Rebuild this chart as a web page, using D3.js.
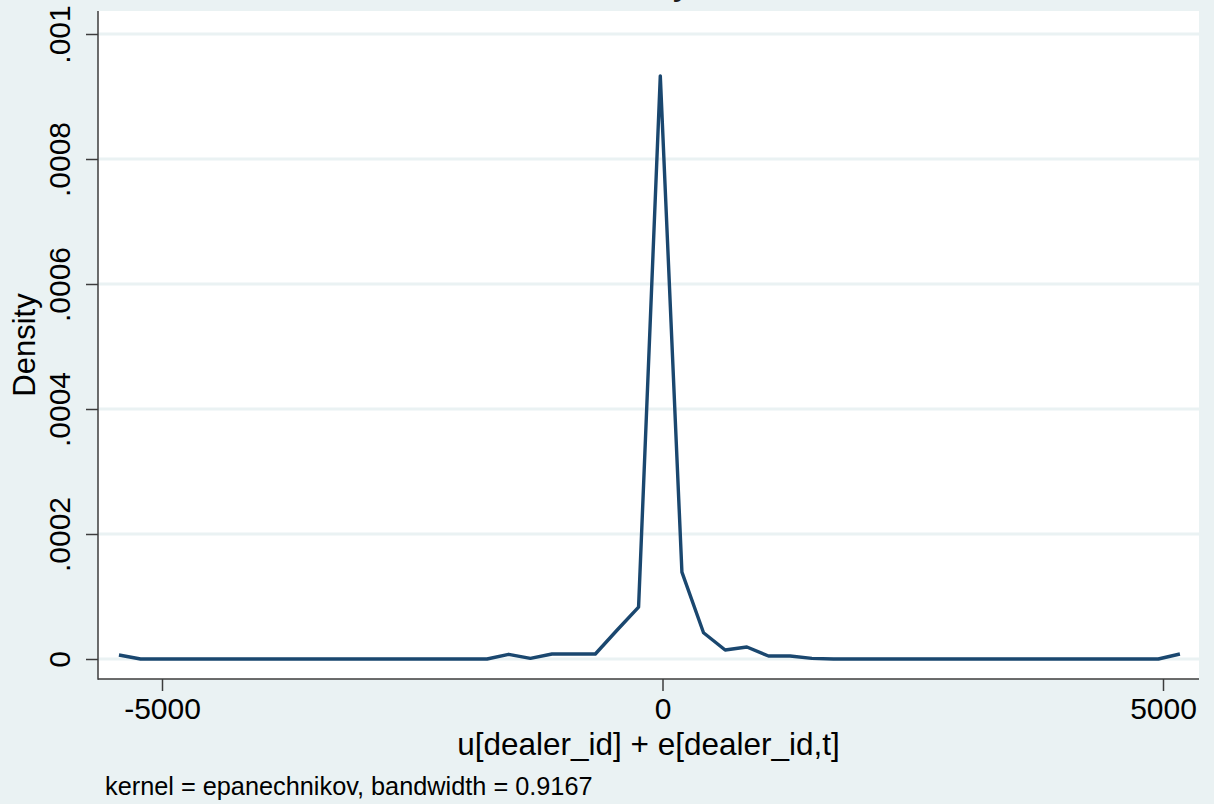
<!DOCTYPE html>
<html>
<head>
<meta charset="utf-8">
<script src="https://cdn.jsdelivr.net/npm/d3@7"></script>
<style>
  body { margin: 0; background: #eaf2f3; }
  svg { display: block; font-family: "Liberation Sans", Arial, sans-serif; }
</style>
</head>
<body>
<div id="chart"></div>
<script>
// evaluation points of the kernel density (x) and estimated density (y)
const gridX = [-5430, -5214, -4997, -4781, -4565, -4348, -4132, -3916, -3699, -3483,
  -3267, -3051, -2834, -2618, -2402, -2185, -1969, -1753, -1537, -1320,
  -1104, -888, -671, -455, -239, -22, 194, 410, 626, 843,
  1059, 1275, 1492, 1708, 1924, 2141, 2357, 2573, 2790, 3006,
  3222, 3438, 3655, 3871, 4087, 4304, 4520, 4736, 4953, 5169];
const density = [0.0000064, 0, 0, 0, 0, 0, 0, 0, 0, 0,
  0, 0, 0, 0, 0, 0, 0, 0, 0.0000075, 0.000001,
  0.000008, 0.000008, 0.000008, 0.000046, 0.000083, 0.000933, 0.000139, 0.000042, 0.0000144, 0.0000192,
  0.0000048, 0.0000048, 0.000001, 0, 0, 0, 0, 0, 0, 0,
  0, 0, 0, 0, 0, 0, 0, 0, 0, 0.000008];

const xTicks = [-5000, 0, 5000];
const xTickLabels = ["-5000", "0", "5000"];
const yTicks = [0, 0.0002, 0.0004, 0.0006, 0.0008, 0.001];
const yTickLabels = ["0", ".0002", ".0004", ".0006", ".0008", ".001"];

const titleText = "Kernel density estimate";
const xTitle = "u[dealer_id] + e[dealer_id,t]";
const yTitle = "Density";
const noteText = "kernel = epanechnikov, bandwidth = 0.9167";

const W = 1214, H = 804;
const plot = {left: 98, right: 1199, top: 11, bottom: 679};

const svg = d3.select("#chart").append("svg")
    .attr("width", W).attr("height", H);

svg.append("rect").attr("width", W).attr("height", H).attr("fill", "#eaf2f3");

let xScale = d3.scaleLinear().domain([-5000, 5000]).range([162, 1163]);
let yScale = d3.scaleLinear().domain([0, 0.001]).range([659, 34]);

// white plot region
svg.append("rect")
    .attr("x", plot.left).attr("y", plot.top)
    .attr("width", plot.right - plot.left)
    .attr("height", plot.bottom - plot.top)
    .attr("fill", "#ffffff");

// horizontal grid lines
svg.append("g").selectAll("line").data(yTicks).join("line")
    .attr("x1", plot.left).attr("x2", plot.right)
    .attr("y1", d => yScale(d)).attr("y2", d => yScale(d))
    .attr("stroke", "#eaf2f3").attr("stroke-width", 3);

// density curve
let lineGen = d3.line()
    .x(d => xScale(d[0]))
    .y(d => yScale(d[1]));

svg.append("path")
    .attr("d", lineGen(d3.zip(gridX, density)))
    .attr("fill", "none")
    .attr("stroke", "#1a476f")
    .attr("stroke-width", 3.4)
    .attr("stroke-linejoin", "round");

// y axis
let yAxis = svg.append("g")
    .attr("transform", `translate(${plot.left},0)`)
    .call(d3.axisLeft(yScale).tickValues(yTicks).tickSize(12)
      .tickFormat((d, i) => yTickLabels[i]));
yAxis.select(".domain").remove();
yAxis.selectAll(".tick line").attr("stroke", "#3c3c3c").attr("stroke-width", 1.5);
yAxis.selectAll(".tick text")
    .attr("x", null).attr("dy", null)
    .attr("text-anchor", "middle")
    .attr("transform", "translate(-28,0) rotate(-90)")
    .attr("font-size", 30).attr("fill", "#000")
    .attr("font-family", "Liberation Sans, Arial, sans-serif");

// x axis
let xAxis = svg.append("g")
    .attr("transform", `translate(0,${plot.bottom})`)
    .call(d3.axisBottom(xScale).tickValues(xTicks).tickSize(12)
      .tickFormat((d, i) => xTickLabels[i]));
xAxis.select(".domain").remove();
xAxis.selectAll(".tick line").attr("stroke", "#3c3c3c").attr("stroke-width", 1.5);
xAxis.selectAll(".tick text")
    .attr("y", 40).attr("dy", null)
    .attr("font-size", 30).attr("fill", "#000")
    .attr("font-family", "Liberation Sans, Arial, sans-serif");

// axis lines
svg.append("line")
    .attr("x1", plot.left).attr("x2", plot.left)
    .attr("y1", plot.top).attr("y2", plot.bottom + 0.75)
    .attr("stroke", "#3c3c3c").attr("stroke-width", 1.5);
svg.append("line")
    .attr("x1", plot.left).attr("x2", plot.right)
    .attr("y1", plot.bottom).attr("y2", plot.bottom)
    .attr("stroke", "#3c3c3c").attr("stroke-width", 1.5);

// titles (main title sits mostly above the visible area, as in the original)
svg.append("text")
    .attr("x", (plot.left + plot.right) / 2).attr("y", -6)
    .attr("text-anchor", "middle").attr("font-size", 38).attr("fill", "#1e1e1e")
    .text(titleText);

svg.append("text")
    .attr("x", (plot.left + plot.right) / 2).attr("y", 755)
    .attr("text-anchor", "middle").attr("font-size", 31.5).attr("fill", "#000")
    .text(xTitle);

svg.append("text")
    .attr("transform", `translate(35,${(plot.top + plot.bottom) / 2}) rotate(-90)`)
    .attr("text-anchor", "middle").attr("font-size", 31).attr("fill", "#000")
    .text(yTitle);

svg.append("text")
    .attr("x", 105).attr("y", 795)
    .attr("font-size", 25.3).attr("fill", "#000")
    .text(noteText);
</script>
</body>
</html>
